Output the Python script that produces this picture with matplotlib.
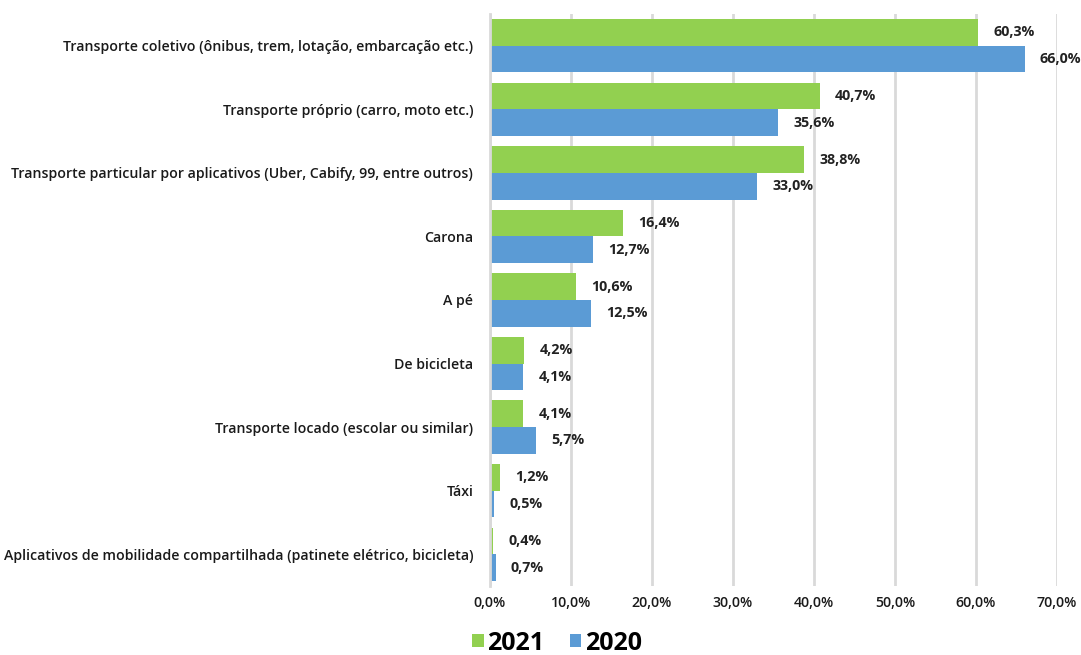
import matplotlib
matplotlib.use("Agg")
import matplotlib.pyplot as plt
import numpy as np

categories = [
    "Transporte coletivo (ônibus, trem, lotação, embarcação etc.)",
    "Transporte próprio (carro, moto etc.)",
    "Transporte particular por aplicativos (Uber, Cabify, 99, entre outros)",
    "Carona",
    "A pé",
    "De bicicleta",
    "Transporte locado (escolar ou similar)",
    "Táxi",
    "Aplicativos de mobilidade compartilhada (patinete elétrico, bicicleta)",
]
values_2021 = [60.3, 40.7, 38.8, 16.4, 10.6, 4.2, 4.1, 1.2, 0.4]
values_2020 = [66.0, 35.6, 33.0, 12.7, 12.5, 4.1, 5.7, 0.5, 0.7]
series_labels = ["2021", "2020"]
xticks = [0, 10, 20, 30, 40, 50, 60, 70]

plt.rcParams['font.family'] = ['Open Sans', 'DejaVu Sans']
green = "#92D050"
blue = "#5B9BD5"

fig = plt.figure(figsize=(10.81, 6.55), dpi=100)
ax = fig.add_axes([490/1081, 1-586/655, (1057-490)/1081, (586-14)/655])

n = len(categories)
y = np.arange(n)
h = 0.42
b1 = ax.barh(y - h/2, values_2021, height=h, color=green, label=series_labels[0])
b2 = ax.barh(y + h/2, values_2020, height=h, color=blue, label=series_labels[1])

def fmt(v):
    return f"{v:.1f}%".replace(".", ",")

for bars, vals in ((b1, values_2021), (b2, values_2020)):
    for rect, v in zip(bars, vals):
        ax.annotate(fmt(v), (v, rect.get_y() + rect.get_height()/2),
                    xytext=(11, 0), textcoords="offset points",
                    ha="left", va="center", fontsize=10.3, fontweight="bold",
                    color="#222222")

ax.set_ylim(n - 0.5, -0.5)
ax.set_xlim(0, 70)
ax.set_yticks(y)
ax.set_yticklabels(categories, fontsize=10.2, fontweight="semibold", color="#1a1a1a")
ax.set_xticks(xticks)
ax.set_xticklabels([fmt(t) for t in xticks], fontsize=10.2, fontweight="semibold", color="#1a1a1a")
ax.tick_params(axis="both", length=0)
ax.tick_params(axis="y", pad=12)
ax.tick_params(axis="x", pad=7)
for s in ["top", "right", "bottom"]:
    ax.spines[s].set_visible(False)
ax.spines["left"].set_color("#D9D9D9")
ax.spines["left"].set_linewidth(2)
ax.xaxis.grid(True, color="#D9D9D9", linewidth=2)
ax.set_axisbelow(True)

leg = fig.legend(handles=[b1, b2], labels=series_labels, loc="center",
                 bbox_to_anchor=(557/1081, 1-643/655), ncol=2, frameon=False,
                 prop={"size": 18, "weight": "bold"}, handlelength=0.45,
                 handleheight=0.45, handletextpad=0.15, columnspacing=1.0)

fig.savefig("out.png", dpi=100)
